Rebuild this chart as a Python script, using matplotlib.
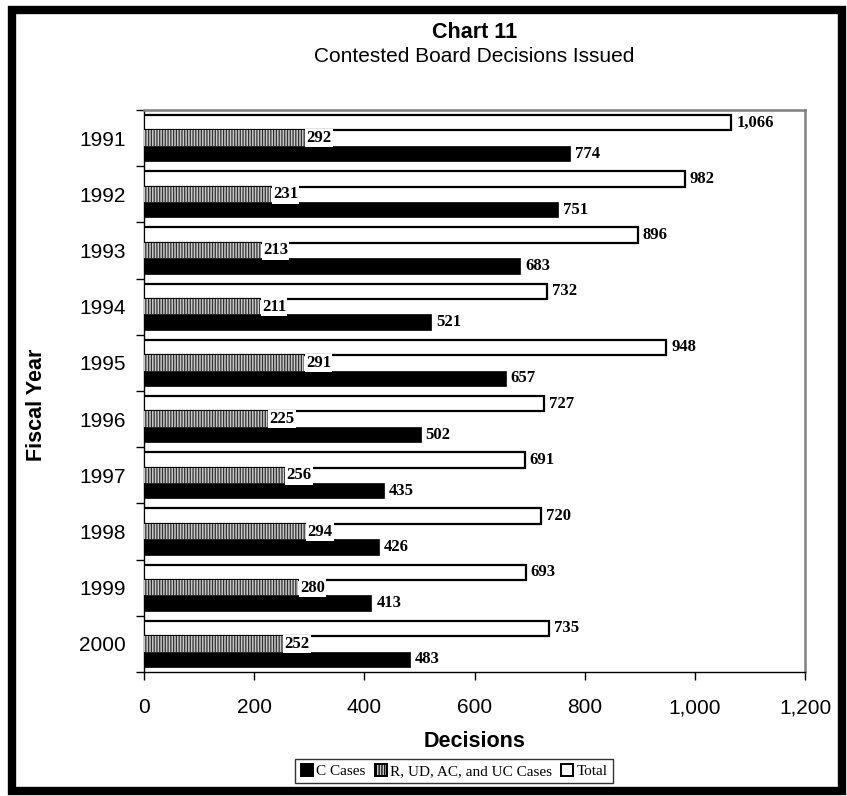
import matplotlib
matplotlib.use("Agg")
import matplotlib.pyplot as plt
from matplotlib.patches import Rectangle
import numpy as np

# ── data ────────────────────────────────────────────────────────────────────
years = ["1991", "1992", "1993", "1994", "1995",
         "1996", "1997", "1998", "1999", "2000"]
c_cases = [774, 751, 683, 521, 657, 502, 435, 426, 413, 483]
r_ud_ac_uc = [292, 231, 213, 211, 291, 225, 256, 294, 280, 252]
totals = [1066, 982, 896, 732, 948, 727, 691, 720, 693, 735]

SANS = "Liberation Sans"
SERIF = "Liberation Serif"
plt.rcParams["hatch.linewidth"] = 0.9

W, H = 847, 796
fig = plt.figure(figsize=(W / 100, H / 100), dpi=100)
fig.patch.set_facecolor("white")

ax = fig.add_axes([144 / W, 1 - 672 / H, (805 - 144) / W, (672 - 110) / H])

y = np.arange(len(years))
bh = 0.275

ax.barh(y - bh, totals, height=bh, color="white", edgecolor="black",
        linewidth=1.6, label="Total", zorder=3)
ax.barh(y, r_ud_ac_uc, height=bh, facecolor="#c8c8c8", edgecolor="#303030",
        linewidth=0, hatch="||||||", label="R, UD, AC, and UC Cases", zorder=3)
ax.barh(y + bh, c_cases, height=bh, color="black", edgecolor="black",
        linewidth=0.5, label="C Cases", zorder=3)

lab = dict(fontsize=12, fontweight="bold", family=SERIF, va="center",
           ha="left", zorder=5)
for i in range(len(years)):
    ax.text(totals[i] + 9, y[i] - bh, f"{totals[i]:,}", **lab)
    ax.text(r_ud_ac_uc[i] + 3, y[i], f"{r_ud_ac_uc[i]:,}",
            bbox=dict(facecolor="white", edgecolor="none", pad=1.0), **lab)
    ax.text(c_cases[i] + 9, y[i] + bh, f"{c_cases[i]:,}", **lab)

# ── axes ────────────────────────────────────────────────────────────────────
ax.set_xlim(0, 1200)
ax.set_ylim(len(years) - 0.5, -0.5)
ax.set_xticks(np.arange(0, 1201, 200))
ax.set_xticklabels([f"{v:,}" for v in range(0, 1201, 200)],
                   fontsize=15, family=SANS)
ax.set_yticks(np.arange(-0.5, len(years), 1.0))
ax.set_yticklabels([])
ax.set_yticks(y, minor=True)
ax.set_yticklabels(years, minor=True, fontsize=15, family=SANS)
ax.tick_params(axis="y", which="minor", length=0, pad=13)
ax.tick_params(axis="y", which="major", direction="out", length=6, width=1)
ax.tick_params(axis="x", direction="out", length=6, width=1, pad=13)

for side in ("top", "right"):
    ax.spines[side].set_color("#808080")
    ax.spines[side].set_linewidth(1.8)
for side in ("left", "bottom"):
    ax.spines[side].set_color("black")
    ax.spines[side].set_linewidth(1.0)

ax.set_xlabel("Decisions", fontsize=15.5, fontweight="bold", family=SANS,
              labelpad=10)
fig.text(37 / W, 1 - 405 / H, "Fiscal Year", rotation=90, fontsize=15.5,
         fontweight="bold", family=SANS, ha="center", va="center")

fig.text(0.5 * (144 + 805) / W, 1 - 32 / H, "Chart 11", fontsize=15.5,
         fontweight="bold", family=SANS, ha="center", va="center")
fig.text(0.5 * (144 + 805) / W, 1 - 57 / H, "Contested Board Decisions Issued",
         fontsize=15, family=SANS, ha="center", va="center")

# legend in C / R / Total order
handles, labels = ax.get_legend_handles_labels()
order = [2, 1, 0]
leg = fig.legend([handles[k] for k in order], [labels[k] for k in order],
                 loc="center", bbox_to_anchor=(454 / W, 1 - 771 / H),
                 ncol=3, frameon=True, fancybox=False, edgecolor="black",
                 prop=dict(family=SERIF, size=11), handlelength=0.8,
                 handleheight=0.8, handletextpad=0.2, columnspacing=0.6,
                 borderpad=0.35, borderaxespad=0)
leg.get_frame().set_linewidth(1.0)
for h in leg.legend_handles:
    h.set_edgecolor("black")
    h.set_linewidth(1.4)

# thick outer frame
fig.add_artist(Rectangle((12 / W, 1 - 791 / H), (842 - 12) / W, (791 - 10) / H,
                         transform=fig.transFigure, fill=False,
                         edgecolor="black", linewidth=6))

fig.savefig("out.png", dpi=100, facecolor="white")
